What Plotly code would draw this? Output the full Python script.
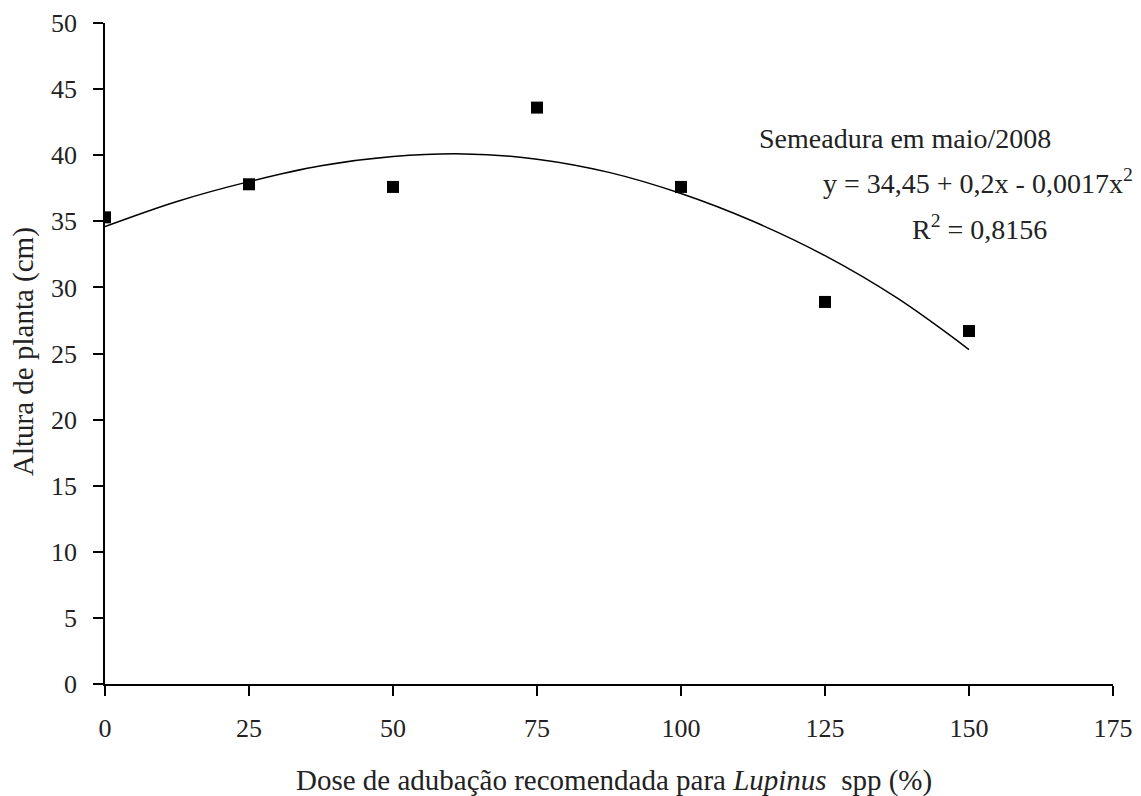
import plotly.graph_objects as go

dose = [0, 25, 50, 75, 100, 125, 150]
altura = [35.3, 37.8, 37.6, 43.6, 37.6, 28.9, 26.7]

curve_x = [0, 12.5, 25, 37.5, 50, 62.5, 75, 87.5, 100, 112.5, 125, 137.5, 150]
curve_y = [34.6, 36.5, 38.0, 39.2, 39.9, 40.1, 39.7, 38.7, 37.1, 35.0, 32.4, 29.2, 25.3]

x_ticks = [0, 25, 50, 75, 100, 125, 150, 175]
y_ticks = [0, 5, 10, 15, 20, 25, 30, 35, 40, 45, 50]

FONT = "Liberation Serif"
FS = 26
FA = 28
FT = 29

# page has an 8px body margin; plot area (page px): x 105..1113, y 23..684
PX0, PX1, PY0, PY1 = 105, 1113, 23, 684


def px(x):
    return (x - PX0) / (PX1 - PX0)


def py(y):
    return (PY1 - y) / (PY1 - PY0)


fig = go.Figure()
fig.add_trace(go.Scatter(x=curve_x, y=curve_y, mode="lines",
                         line=dict(color="black", width=1.5, shape="spline"),
                         showlegend=False, hoverinfo="skip"))
fig.add_trace(go.Scatter(x=dose, y=altura, mode="markers",
                         marker=dict(symbol="square", size=12, color="black"),
                         showlegend=False))

fig.update_layout(
    width=1133, height=788,
    margin=dict(l=97, r=28, t=15, b=112),
    paper_bgcolor="white", plot_bgcolor="white",
    font=dict(family=FONT, size=FS, color="#222"),
    xaxis=dict(range=[0, 175], tickvals=x_ticks, showgrid=False, zeroline=False,
               automargin=False, ticklabeloverflow="allow",
               showline=True, linecolor="black", linewidth=1.5,
               ticks="outside", ticklen=10, tickwidth=1.5, tickcolor="black",
               ticklabelstandoff=10, tickfont=dict(family=FONT, size=FS)),
    yaxis=dict(range=[0, 50], tickvals=y_ticks, showgrid=False, zeroline=False,
               automargin=False, ticklabeloverflow="allow",
               showline=True, linecolor="black", linewidth=1.5,
               ticks="outside", ticklen=10, tickwidth=1.5, tickcolor="black",
               ticklabelstandoff=11, tickfont=dict(family=FONT, size=FS)),
    annotations=[
        dict(text="Dose de adubação recomendada para <i>Lupinus</i>  spp (%)",
             xref="paper", yref="paper", x=px(614), y=py(780),
             showarrow=False, xanchor="center", yanchor="middle", font=dict(family=FONT, size=FT)),
        dict(text="Altura de planta (cm)", textangle=-90,
             xref="paper", yref="paper", x=px(23), y=py(352),
             showarrow=False, xanchor="center", yanchor="middle", font=dict(family=FONT, size=FT)),
        dict(text="Semeadura em maio/2008", xref="paper", yref="paper",
             x=px(757), y=py(138),
             showarrow=False, xanchor="left", yanchor="middle", font=dict(family=FONT, size=FA)),
        dict(text="y = 34,45 + 0,2x - 0,0017x<sup>2</sup>", xref="paper", yref="paper",
             x=px(1135), y=py(181),
             showarrow=False, xanchor="right", yanchor="middle", font=dict(family=FONT, size=FA)),
        dict(text="R<sup>2</sup> = 0,8156", xref="paper", yref="paper",
             x=px(1049), y=py(227),
             showarrow=False, xanchor="right", yanchor="middle", font=dict(family=FONT, size=FA)),
    ],
)

fig.write_html("out.html")
